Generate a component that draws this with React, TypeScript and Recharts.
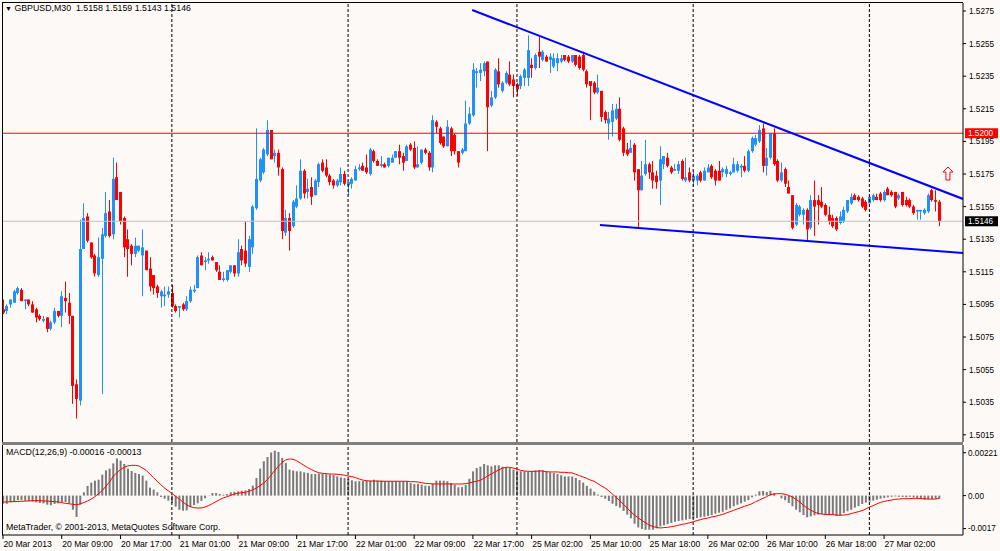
import React from 'react';
import { ComposedChart, Bar, Line, XAxis, YAxis, ReferenceLine, ReferenceDot } from 'recharts';

// ---------- data (GBPUSD M30) ----------
const opens = [
  1.5092,1.5091,1.5095,1.5096,1.5102,1.5104,1.5097,1.5098,1.5095,1.5092,
  1.5088,1.5085,1.5087,1.5080,1.5084,1.5091,1.5088,1.5099,1.5096,1.5088,
  1.5046,1.5036,1.5129,1.5149,1.5133,1.5125,1.5113,1.5123,1.5137,1.5152,
  1.5138,1.5173,1.5164,1.5148,1.5135,1.5131,1.5126,1.5128,1.5125,1.5128,
  1.5117,1.5113,1.5106,1.5100,1.5100,1.5101,1.5102,1.5094,1.5093,1.5095,
  1.5092,1.5097,1.5103,1.5105,1.5125,1.5121,1.5122,1.5124,1.5121,1.5115,
  1.5110,1.5110,1.5115,1.5119,1.5114,1.5129,1.5128,1.5118,1.5130,1.5154,
  1.5171,1.5176,1.5187,1.5202,1.5186,1.5188,1.5178,1.5139,1.5148,1.5143,
  1.5155,1.5160,1.5177,1.5164,1.5167,1.5162,1.5170,1.5182,1.5179,1.5174,
  1.5171,1.5168,1.5170,1.5175,1.5168,1.5169,1.5171,1.5178,1.5180,1.5179,
  1.5175,1.5189,1.5183,1.5180,1.5181,1.5180,1.5182,1.5185,1.5189,1.5186,
  1.5183,1.5193,1.5191,1.5179,1.5182,1.5190,1.5188,1.5179,1.5207,1.5203,
  1.5198,1.5192,1.5203,1.5199,1.5189,1.5188,1.5189,1.5206,1.5211,1.5237,
  1.5237,1.5238,1.5244,1.5217,1.5222,1.5238,1.5226,1.5231,1.5236,1.5233,
  1.5230,1.5229,1.5234,1.5234,1.5242,1.5240,1.5250,1.5245,1.5247,1.5245,
  1.5241,1.5243,1.5244,1.5248,1.5247,1.5244,1.5248,1.5247,1.5248,1.5238,
  1.5232,1.5231,1.5225,1.5226,1.5213,1.5206,1.5207,1.5209,1.5215,1.5203,
  1.5190,1.5188,1.5193,1.5178,1.5165,1.5175,1.5181,1.5176,1.5174,1.5171,
  1.5181,1.5185,1.5179,1.5177,1.5177,1.5183,1.5171,1.5176,1.5171,1.5171,
  1.5176,1.5171,1.5176,1.5180,1.5177,1.5177,1.5176,1.5175,1.5175,1.5176,
  1.5177,1.5179,1.5180,1.5177,1.5189,1.5193,1.5195,1.5203,1.5180,1.5185,
  1.5200,1.5183,1.5171,1.5178,1.5167,1.5162,1.5144,1.5150,1.5150,1.5153,
  1.5142,1.5159,1.5159,1.5158,1.5156,1.5150,1.5148,1.5148,1.5145,1.5146,
  1.5152,1.5157,1.5162,1.5161,1.5160,1.5158,1.5157,1.5159,1.5161,1.5163,
  1.5159,1.5166,1.5164,1.5164,1.5160,1.5164,1.5159,1.5159,1.5155,1.5152,
  1.5152,1.5151,1.5152,1.5165,1.5159,1.5158,
];
const highs = [
  1.5098,1.5095,1.5098,1.5104,1.5106,1.5105,1.5098,1.5098,1.5097,1.5093,
  1.5089,1.5088,1.5087,1.5085,1.5093,1.5091,1.5103,1.5109,1.5102,1.5088,
  1.5049,1.5147,1.5157,1.5151,1.5133,1.5126,1.5136,1.5142,1.5164,1.5159,
  1.5185,1.5182,1.5164,1.5149,1.5141,1.5132,1.5136,1.5131,1.5141,1.5128,
  1.5124,1.5113,1.5107,1.5104,1.5106,1.5106,1.5107,1.5095,1.5094,1.5096,
  1.5100,1.5106,1.5107,1.5125,1.5127,1.5124,1.5127,1.5125,1.5121,1.5119,
  1.5115,1.5116,1.5119,1.5119,1.5135,1.5131,1.5146,1.5137,1.5156,1.5203,
  1.5185,1.5191,1.5208,1.5202,1.5190,1.5190,1.5179,1.5153,1.5151,1.5159,
  1.5168,1.5184,1.5178,1.5172,1.5173,1.5172,1.5182,1.5184,1.5184,1.5175,
  1.5172,1.5172,1.5179,1.5177,1.5170,1.5173,1.5180,1.5181,1.5182,1.5187,
  1.5191,1.5190,1.5184,1.5186,1.5182,1.5185,1.5187,1.5189,1.5193,1.5188,
  1.5193,1.5194,1.5195,1.5192,1.5190,1.5191,1.5189,1.5211,1.5208,1.5204,
  1.5198,1.5208,1.5204,1.5200,1.5189,1.5191,1.5220,1.5216,1.5243,1.5240,
  1.5243,1.5244,1.5244,1.5226,1.5240,1.5246,1.5232,1.5238,1.5244,1.5236,
  1.5231,1.5236,1.5240,1.5260,1.5246,1.5249,1.5259,1.5251,1.5248,1.5249,
  1.5249,1.5249,1.5248,1.5248,1.5248,1.5248,1.5248,1.5248,1.5250,1.5239,
  1.5232,1.5232,1.5236,1.5226,1.5214,1.5213,1.5218,1.5218,1.5222,1.5204,
  1.5194,1.5196,1.5194,1.5178,1.5183,1.5196,1.5182,1.5183,1.5177,1.5192,
  1.5186,1.5188,1.5180,1.5181,1.5183,1.5184,1.5185,1.5179,1.5177,1.5175,
  1.5177,1.5179,1.5181,1.5181,1.5178,1.5183,1.5179,1.5180,1.5177,1.5185,
  1.5183,1.5181,1.5186,1.5190,1.5198,1.5199,1.5205,1.5206,1.5191,1.5200,
  1.5203,1.5184,1.5182,1.5179,1.5171,1.5162,1.5157,1.5156,1.5154,1.5154,
  1.5162,1.5171,1.5162,1.5167,1.5157,1.5155,1.5150,1.5149,1.5152,1.5155,
  1.5159,1.5163,1.5163,1.5162,1.5161,1.5159,1.5162,1.5163,1.5163,1.5164,
  1.5165,1.5167,1.5165,1.5164,1.5163,1.5164,1.5161,1.5160,1.5156,1.5153,
  1.5153,1.5154,1.5163,1.5166,1.5165,1.5159,
];
const lows = [
  1.5089,1.5089,1.5093,1.5096,1.5101,1.5097,1.5092,1.5094,1.5090,1.5084,
  1.5085,1.5084,1.5078,1.5079,1.5083,1.5087,1.5081,1.5090,1.5083,1.5034,
  1.5025,1.5033,1.5129,1.5133,1.5123,1.5112,1.5112,1.5040,1.5136,1.5136,
  1.5135,1.5159,1.5144,1.5124,1.5112,1.5119,1.5124,1.5127,1.5100,1.5116,
  1.5103,1.5101,1.5099,1.5093,1.5094,1.5099,1.5093,1.5090,1.5087,1.5091,
  1.5091,1.5096,1.5102,1.5105,1.5119,1.5116,1.5120,1.5122,1.5115,1.5110,
  1.5109,1.5109,1.5114,1.5112,1.5112,1.5119,1.5118,1.5115,1.5126,1.5153,
  1.5170,1.5175,1.5186,1.5184,1.5182,1.5174,1.5135,1.5137,1.5128,1.5142,
  1.5154,1.5159,1.5160,1.5160,1.5156,1.5162,1.5167,1.5176,1.5173,1.5168,
  1.5166,1.5167,1.5168,1.5168,1.5162,1.5166,1.5171,1.5177,1.5177,1.5175,
  1.5174,1.5182,1.5180,1.5179,1.5179,1.5179,1.5182,1.5185,1.5181,1.5177,
  1.5183,1.5189,1.5178,1.5179,1.5181,1.5187,1.5177,1.5176,1.5200,1.5193,
  1.5191,1.5192,1.5186,1.5187,1.5179,1.5187,1.5189,1.5205,1.5210,1.5228,
  1.5232,1.5235,1.5189,1.5216,1.5221,1.5228,1.5225,1.5230,1.5229,1.5222,
  1.5223,1.5227,1.5229,1.5229,1.5234,1.5239,1.5240,1.5244,1.5244,1.5237,
  1.5240,1.5238,1.5243,1.5244,1.5243,1.5243,1.5241,1.5239,1.5238,1.5228,
  1.5208,1.5224,1.5224,1.5207,1.5206,1.5196,1.5198,1.5208,1.5195,1.5186,
  1.5186,1.5188,1.5171,1.5142,1.5165,1.5174,1.5172,1.5166,1.5166,1.5156,
  1.5178,1.5179,1.5175,1.5177,1.5175,1.5171,1.5170,1.5170,1.5167,1.5168,
  1.5170,1.5171,1.5176,1.5172,1.5168,1.5171,1.5173,1.5173,1.5174,1.5176,
  1.5176,1.5173,1.5176,1.5176,1.5188,1.5192,1.5194,1.5176,1.5174,1.5184,
  1.5180,1.5170,1.5170,1.5167,1.5163,1.5141,1.5143,1.5149,1.5144,1.5134,
  1.5141,1.5137,1.5144,1.5154,1.5149,1.5144,1.5142,1.5140,1.5144,1.5145,
  1.5151,1.5156,1.5159,1.5158,1.5154,1.5152,1.5157,1.5158,1.5159,1.5158,
  1.5158,1.5162,1.5161,1.5154,1.5159,1.5155,1.5155,1.5154,1.5150,1.5147,
  1.5147,1.5150,1.5151,1.5158,1.5152,1.5143,
];
const closes = [
  1.5090,1.5094,1.5098,1.5103,1.5105,1.5097,1.5098,1.5095,1.5090,1.5087,
  1.5086,1.5086,1.5080,1.5084,1.5091,1.5088,1.5100,1.5097,1.5088,1.5045,
  1.5037,1.5129,1.5148,1.5134,1.5124,1.5114,1.5124,1.5138,1.5151,1.5137,
  1.5172,1.5159,1.5146,1.5130,1.5129,1.5126,1.5131,1.5131,1.5130,1.5116,
  1.5106,1.5105,1.5102,1.5103,1.5101,1.5103,1.5094,1.5091,1.5094,1.5092,
  1.5097,1.5104,1.5104,1.5124,1.5119,1.5122,1.5123,1.5122,1.5116,1.5110,
  1.5111,1.5116,1.5119,1.5114,1.5127,1.5122,1.5120,1.5135,1.5155,1.5172,
  1.5184,1.5190,1.5202,1.5184,1.5188,1.5179,1.5140,1.5148,1.5140,1.5158,
  1.5160,1.5177,1.5163,1.5166,1.5161,1.5171,1.5181,1.5177,1.5174,1.5170,
  1.5168,1.5171,1.5175,1.5169,1.5170,1.5172,1.5178,1.5179,1.5177,1.5176,
  1.5190,1.5183,1.5180,1.5181,1.5179,1.5185,1.5185,1.5189,1.5185,1.5182,
  1.5192,1.5190,1.5179,1.5181,1.5190,1.5188,1.5179,1.5208,1.5204,1.5194,
  1.5192,1.5204,1.5189,1.5189,1.5182,1.5190,1.5206,1.5212,1.5239,1.5238,
  1.5239,1.5243,1.5216,1.5222,1.5239,1.5230,1.5231,1.5237,1.5230,1.5229,
  1.5227,1.5235,1.5239,1.5251,1.5240,1.5248,1.5247,1.5250,1.5244,1.5247,
  1.5246,1.5246,1.5246,1.5245,1.5244,1.5248,1.5242,1.5240,1.5239,1.5230,
  1.5229,1.5225,1.5228,1.5210,1.5208,1.5209,1.5214,1.5215,1.5196,1.5188,
  1.5187,1.5191,1.5176,1.5165,1.5174,1.5181,1.5176,1.5171,1.5170,1.5184,
  1.5186,1.5180,1.5176,1.5178,1.5181,1.5172,1.5173,1.5171,1.5174,1.5174,
  1.5171,1.5177,1.5179,1.5173,1.5171,1.5171,1.5178,1.5178,1.5176,1.5181,
  1.5181,1.5180,1.5177,1.5189,1.5197,1.5197,1.5202,1.5180,1.5185,1.5200,
  1.5181,1.5171,1.5176,1.5169,1.5163,1.5142,1.5156,1.5155,1.5153,1.5141,
  1.5159,1.5155,1.5156,1.5155,1.5150,1.5146,1.5143,1.5141,1.5149,1.5153,
  1.5159,1.5161,1.5159,1.5159,1.5155,1.5153,1.5161,1.5162,1.5159,1.5159,
  1.5164,1.5162,1.5162,1.5155,1.5162,1.5156,1.5156,1.5155,1.5151,1.5153,
  1.5153,1.5153,1.5162,1.5159,1.5158,1.5146,
];
const macdHist = [
  -0.00042,-0.00042,-0.00035,-0.00030,-0.00024,-0.00024,-0.00026,-0.00028,-0.00030,-0.00035,
  -0.00038,-0.00040,-0.00047,-0.00050,-0.00043,-0.00040,-0.00033,-0.00033,-0.00040,-0.00073,
  -0.00110,-0.00047,0.00017,0.00050,0.00067,0.00077,0.00082,0.00108,0.00130,0.00139,
  0.00166,0.00191,0.00180,0.00163,0.00139,0.00127,0.00117,0.00111,0.00103,0.00077,
  0.00041,0.00031,0.00017,-0.00007,-0.00016,-0.00026,-0.00038,-0.00057,-0.00073,-0.00078,
  -0.00076,-0.00059,-0.00049,-0.00040,-0.00028,-0.00014,0.00001,0.00013,0.00013,0.00008,
  0.00005,0.00008,0.00017,0.00020,0.00022,0.00025,0.00027,0.00034,0.00051,0.00091,
  0.00139,0.00177,0.00199,0.00222,0.00232,0.00225,0.00194,0.00168,0.00134,0.00129,
  0.00125,0.00125,0.00120,0.00117,0.00111,0.00111,0.00113,0.00113,0.00110,0.00108,
  0.00106,0.00099,0.00094,0.00091,0.00086,0.00079,0.00074,0.00074,0.00075,0.00077,
  0.00077,0.00082,0.00077,0.00077,0.00074,0.00074,0.00074,0.00074,0.00074,0.00074,
  0.00074,0.00065,0.00060,0.00060,0.00056,0.00051,0.00050,0.00063,0.00077,0.00077,
  0.00077,0.00074,0.00065,0.00056,0.00043,0.00044,0.00056,0.00087,0.00125,0.00142,
  0.00149,0.00163,0.00156,0.00151,0.00156,0.00156,0.00149,0.00146,0.00142,0.00134,
  0.00129,0.00125,0.00125,0.00122,0.00127,0.00130,0.00132,0.00130,0.00125,0.00120,
  0.00117,0.00111,0.00105,0.00099,0.00099,0.00098,0.00091,0.00080,0.00067,0.00050,
  0.00036,0.00020,0.00005,-0.00007,-0.00016,-0.00028,-0.00042,-0.00054,-0.00062,-0.00079,
  -0.00098,-0.00117,-0.00145,-0.00164,-0.00172,-0.00176,-0.00176,-0.00176,-0.00169,-0.00159,
  -0.00153,-0.00147,-0.00141,-0.00135,-0.00131,-0.00128,-0.00124,-0.00121,-0.00119,-0.00116,
  -0.00112,-0.00109,-0.00105,-0.00100,-0.00093,-0.00088,-0.00083,-0.00074,-0.00066,-0.00055,
  -0.00047,-0.00040,-0.00031,-0.00023,-0.00009,0.00005,0.00022,0.00024,0.00019,0.00025,
  0.00013,0.00000,-0.00014,-0.00024,-0.00038,-0.00055,-0.00073,-0.00086,-0.00100,-0.00112,
  -0.00107,-0.00102,-0.00098,-0.00095,-0.00100,-0.00100,-0.00100,-0.00105,-0.00100,-0.00090,
  -0.00081,-0.00073,-0.00062,-0.00054,-0.00043,-0.00036,-0.00031,-0.00026,-0.00021,-0.00016,
  -0.00012,-0.00009,-0.00006,-0.00004,-0.00006,-0.00007,-0.00009,-0.00006,-0.00009,-0.00012,
  -0.00016,-0.00021,-0.00019,-0.00018,-0.00016,-0.00016,
];
const macdSignal = [
  -0.00033,-0.00033,-0.00031,-0.00031,-0.00030,-0.00030,-0.00028,-0.00028,-0.00026,-0.00026,
  -0.00026,-0.00028,-0.00028,-0.00030,-0.00031,-0.00033,-0.00036,-0.00040,-0.00042,-0.00045,
  -0.00047,-0.00043,-0.00036,-0.00028,-0.00018,-0.00006,0.00010,0.00025,0.00048,0.00070,
  0.00099,0.00118,0.00134,0.00146,0.00153,0.00156,0.00156,0.00153,0.00142,0.00130,
  0.00111,0.00093,0.00074,0.00056,0.00039,0.00025,0.00012,-0.00004,-0.00018,-0.00033,
  -0.00047,-0.00057,-0.00062,-0.00064,-0.00064,-0.00059,-0.00052,-0.00042,-0.00031,-0.00021,
  -0.00012,-0.00006,0.00001,0.00008,0.00012,0.00015,0.00017,0.00022,0.00029,0.00039,
  0.00051,0.00065,0.00082,0.00105,0.00129,0.00151,0.00170,0.00184,0.00189,0.00187,
  0.00180,0.00168,0.00156,0.00144,0.00134,0.00125,0.00118,0.00115,0.00113,0.00111,
  0.00111,0.00110,0.00108,0.00105,0.00101,0.00098,0.00093,0.00086,0.00080,0.00077,
  0.00075,0.00075,0.00075,0.00074,0.00074,0.00074,0.00074,0.00074,0.00074,0.00074,
  0.00074,0.00072,0.00072,0.00070,0.00067,0.00063,0.00062,0.00060,0.00060,0.00060,
  0.00060,0.00060,0.00060,0.00060,0.00060,0.00060,0.00062,0.00065,0.00070,0.00074,
  0.00079,0.00089,0.00101,0.00111,0.00122,0.00132,0.00141,0.00146,0.00146,0.00142,
  0.00137,0.00130,0.00127,0.00125,0.00125,0.00125,0.00127,0.00127,0.00123,0.00122,
  0.00122,0.00122,0.00120,0.00120,0.00118,0.00117,0.00110,0.00103,0.00096,0.00089,
  0.00080,0.00074,0.00062,0.00050,0.00039,0.00025,0.00008,-0.00009,-0.00026,-0.00045,
  -0.00064,-0.00083,-0.00100,-0.00114,-0.00128,-0.00140,-0.00152,-0.00159,-0.00164,-0.00167,
  -0.00165,-0.00164,-0.00160,-0.00157,-0.00153,-0.00148,-0.00145,-0.00140,-0.00135,-0.00129,
  -0.00124,-0.00119,-0.00116,-0.00110,-0.00107,-0.00102,-0.00097,-0.00090,-0.00083,-0.00076,
  -0.00069,-0.00062,-0.00055,-0.00049,-0.00042,-0.00031,-0.00023,-0.00014,-0.00006,0.00005,
  0.00008,0.00010,0.00010,0.00007,0.00001,-0.00007,-0.00019,-0.00033,-0.00049,-0.00064,
  -0.00074,-0.00085,-0.00092,-0.00095,-0.00097,-0.00098,-0.00098,-0.00100,-0.00102,-0.00100,
  -0.00098,-0.00093,-0.00088,-0.00083,-0.00078,-0.00069,-0.00059,-0.00052,-0.00043,-0.00035,
  -0.00030,-0.00026,-0.00023,-0.00019,-0.00018,-0.00016,-0.00016,-0.00016,-0.00014,-0.00014,
  -0.00016,-0.00016,-0.00018,-0.00018,-0.00018,-0.00013,
];

const timeTickBars = [0, 16, 32, 48, 64, 80, 96, 112, 128, 144, 160, 176, 192, 208, 224, 240];
const timeTickLabels = [
  '20 Mar 2013', '20 Mar 09:00', '20 Mar 17:00', '21 Mar 01:00', '21 Mar 09:00', '21 Mar 17:00',
  '22 Mar 01:00', '22 Mar 09:00', '22 Mar 17:00', '25 Mar 02:00', '25 Mar 10:00', '25 Mar 18:00',
  '26 Mar 02:00', '26 Mar 10:00', '26 Mar 18:00', '27 Mar 02:00',
];
const priceTicks = [1.5275, 1.5255, 1.5235, 1.5215, 1.5195, 1.5175, 1.5155, 1.5135, 1.5115, 1.5095, 1.5075, 1.5055, 1.5035, 1.5015];
const macdTicks = [0.00221, 0, -0.0017];
const macdTickLabels = ['0.00221', '0.00', '-0.0017'];
const daySeparators = [46, 94, 140, 188, 236];
const upperTrend = [{ x: 127.8, y: 1.52756 }, { x: 261.5, y: 1.51597 }];
const lowerTrend = [{ x: 162.6, y: 1.51437 }, { x: 261.5, y: 1.51265 }];
const redLevel = 1.52;
const bidLevel = 1.5146;
const arrowMark = { x: 257.4, y: 1.51753 };

const xDomain: [number, number] = [-0.27, 261.5];
const priceDomain: [number, number] = [1.50106, 1.52799];
const macdDomain: [number, number] = [-0.002031, 0.002608];

const rows = opens.map((o, i) => ({
  i,
  open: o,
  high: highs[i],
  low: lows[i],
  close: closes[i],
  range: [lows[i], highs[i]],
  macd: macdHist[i],
  signal: macdSignal[i],
}));

const FONT = '"Liberation Sans", Arial, sans-serif';
const BG = '#fcf9f7';
const UP = '#1e90ff';
const DOWN = '#ff0000';

const Candle = (props: any) => {
  const { x, y, width, height, payload } = props;
  if (!payload) return null;
  const { open, close, high, low } = payload;
  const top = height < 0 ? y + height : y;
  const h = Math.abs(height);
  const color = close >= open ? UP : DOWN;
  const cx = Math.round(x + width / 2) + 0.5;
  const span = high - low;
  const k = span > 0 ? h / span : 0;
  const yO = top + (high - open) * k;
  const yC = top + (high - close) * k;
  const bTop = Math.min(yO, yC);
  const bH = Math.max(Math.abs(yO - yC), 1);
  return (
    <g>
      <line x1={cx} x2={cx} y1={top} y2={top + h} stroke={color} strokeWidth={1} />
      <rect x={cx - 1.5} y={bTop} width={3} height={bH} fill={color} />
    </g>
  );
};

const priceTag = (text: string, bg: string) => (props: any) => {
  const vb = props.viewBox || {};
  const x0 = (vb.x || 0) + (vb.width || 0) + 2;
  const yc = vb.y || 0;
  return (
    <g>
      <rect x={x0} y={yc - 5} width={33} height={10} fill={bg} />
      <text x={x0 + 3} y={yc + 3} fontSize={8.2} fontFamily={FONT} fill="#ffffff">{text}</text>
    </g>
  );
};

const ArrowUp = (props: any) => {
  const { cx, cy } = props;
  if (cx == null || cy == null) return null;
  const pts = [
    [cx, cy - 6.5], [cx + 5, cy - 1.5], [cx + 2, cy - 1.5], [cx + 2, cy + 6.5],
    [cx - 2, cy + 6.5], [cx - 2, cy - 1.5], [cx - 5, cy - 1.5],
  ].map((p) => p.join(',')).join(' ');
  return <polygon points={pts} fill="#ffffff" stroke="#ff0000" strokeWidth={1} />;
};

const TimeTick = (props: any) => {
  const { x, y, payload } = props;
  const idx = timeTickBars.indexOf(payload.value);
  const label = idx >= 0 ? timeTickLabels[idx] : '';
  return (
    <text x={x + 0.5} y={y + 7.5} fontSize={8.6} fontFamily={FONT} fill="#000000" textAnchor="start">{label}</text>
  );
};

const axisTick = { fontSize: 8.2, fill: '#000000', fontFamily: FONT };

export default function App() {
  return (
    <div style={{ position: 'absolute', left: 0, top: 0, width: 1000, height: 551, background: BG, overflow: 'hidden', fontFamily: FONT }}>
      <div style={{ position: 'absolute', left: 0, top: 0 }}>
        <ComposedChart width={1000} height={442} data={rows} margin={{ top: 3, right: 0, bottom: 0, left: 2 }}>
          <XAxis type="number" dataKey="i" domain={xDomain} allowDataOverflow hide />
          <YAxis
            orientation="right"
            type="number"
            domain={priceDomain}
            allowDataOverflow
            ticks={priceTicks}
            interval={0}
            width={37}
            tickSize={3}
            tickMargin={3}
            axisLine={{ stroke: '#000000' }}
            tickLine={{ stroke: '#000000' }}
            tick={axisTick}
            tickFormatter={(v: number) => v.toFixed(4)}
          />
          {daySeparators.map((d) => (
            <ReferenceLine key={'sep' + d} x={d} stroke="#000000" strokeWidth={1} strokeDasharray="3 2" />
          ))}
          <ReferenceLine y={bidLevel} stroke="#c0c0c0" strokeWidth={1} ifOverflow="visible" label={priceTag('1.5146', '#000000')} />
          <ReferenceLine y={redLevel} stroke="#ff0000" strokeWidth={1} ifOverflow="visible" label={priceTag('1.5200', '#ff0000')} />
          <Bar dataKey="range" barSize={3} shape={Candle} isAnimationActive={false} />
          <ReferenceLine segment={upperTrend} stroke="#0000ff" strokeWidth={2} ifOverflow="hidden" />
          <ReferenceLine segment={lowerTrend} stroke="#0000ff" strokeWidth={2} ifOverflow="hidden" />
          <ReferenceDot x={arrowMark.x} y={arrowMark.y} r={6} ifOverflow="visible" shape={ArrowUp} />
        </ComposedChart>
      </div>
      <div style={{ position: 'absolute', left: 0, top: 445 }}>
        <ComposedChart width={1000} height={106} data={rows} margin={{ top: 0, right: 0, bottom: 0, left: 2 }}>
          <XAxis
            type="number"
            dataKey="i"
            domain={xDomain}
            allowDataOverflow
            ticks={timeTickBars}
            interval={0}
            height={16}
            tickSize={4}
            tickMargin={0}
            axisLine={{ stroke: '#000000' }}
            tickLine={{ stroke: '#000000' }}
            tick={<TimeTick />}
          />
          <YAxis
            orientation="right"
            type="number"
            domain={macdDomain}
            allowDataOverflow
            ticks={macdTicks}
            interval={0}
            width={37}
            tickSize={3}
            tickMargin={2}
            axisLine={{ stroke: '#000000' }}
            tickLine={{ stroke: '#000000' }}
            tick={axisTick}
            tickFormatter={(v: number) => {
              const k = macdTicks.indexOf(v);
              return k >= 0 ? macdTickLabels[k] : String(v);
            }}
          />
          {daySeparators.map((d) => (
            <ReferenceLine key={'msep' + d} x={d} stroke="#000000" strokeWidth={1} strokeDasharray="3 2" />
          ))}
          <Bar dataKey="macd" barSize={2} fill="#7a7a7a" isAnimationActive={false} />
          <Line dataKey="signal" type="linear" stroke="#ff0000" strokeWidth={1} dot={false} isAnimationActive={false} />
        </ComposedChart>
      </div>
      {/* frames */}
      <div style={{ position: 'absolute', left: 2, top: 2, width: 961, height: 440, borderLeft: '1px solid #000', borderTop: '1px solid #000', boxSizing: 'border-box', pointerEvents: 'none' }} />
      <div style={{ position: 'absolute', left: 2, top: 442, width: 961, height: 3, background: '#808080', pointerEvents: 'none' }} />
      <div style={{ position: 'absolute', left: 2, top: 445, width: 1, height: 90, background: '#000', pointerEvents: 'none' }} />
      {/* texts */}
      <div style={{ position: 'absolute', left: 5, top: 3, fontSize: 8.8, lineHeight: '11px', whiteSpace: 'pre', color: '#000' }}>
        <span style={{ fontSize: 7 }}>▼</span> GBPUSD,M30  1.5158 1.5159 1.5143 1.5146
      </div>
      <div style={{ position: 'absolute', left: 6, top: 447, fontSize: 8.8, lineHeight: '11px', whiteSpace: 'pre', color: '#000' }}>
        MACD(12,26,9) -0.00016 -0.00013
      </div>
      <div style={{ position: 'absolute', left: 6, top: 522, fontSize: 8.8, lineHeight: '11px', whiteSpace: 'pre', color: '#000' }}>
        MetaTrader, © 2001-2013, MetaQuotes Software Corp.
      </div>
    </div>
  );
}
